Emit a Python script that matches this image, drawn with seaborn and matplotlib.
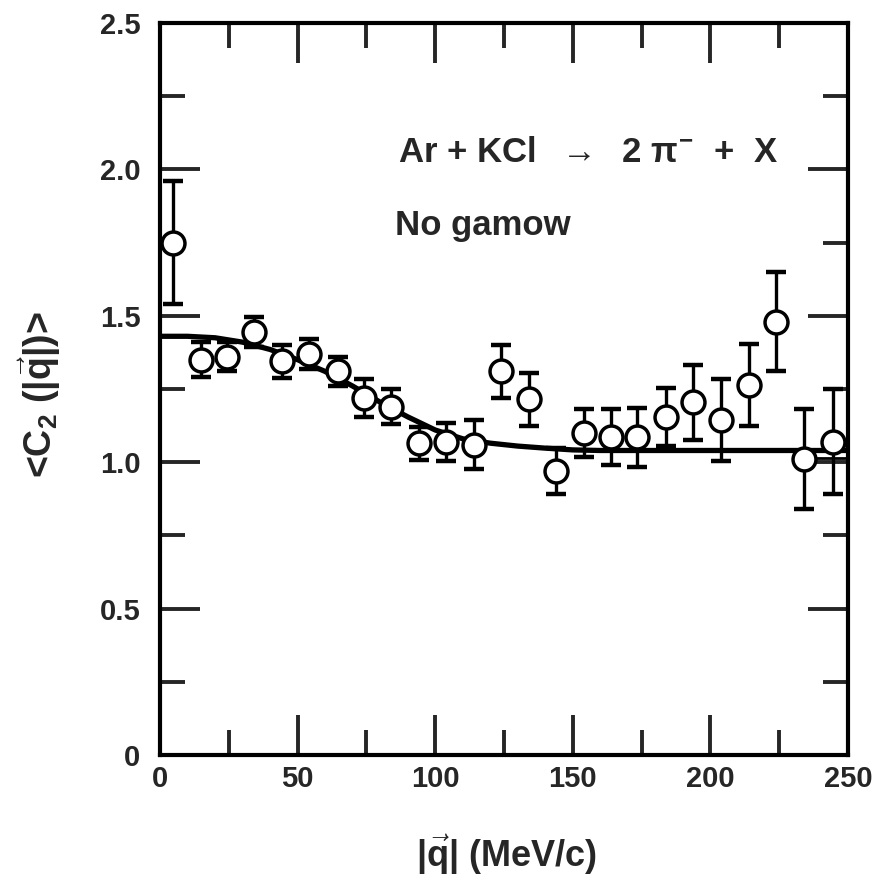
import matplotlib
matplotlib.use("Agg")
import matplotlib.pyplot as plt
import seaborn as sns
import numpy as np
import pandas as pd
from matplotlib.ticker import MultipleLocator

# ---- data ----
q_vals = [4.7, 15, 24.5, 34, 44.5, 54, 64.5, 74, 84, 94, 104, 114, 124, 134,
          144, 154, 164, 173.5, 184, 193.5, 204, 214, 224, 234, 244.5]
c2_vals = [1.75, 1.35, 1.36, 1.445, 1.345, 1.37, 1.31, 1.22, 1.19, 1.065, 1.07,
           1.06, 1.31, 1.215, 0.97, 1.10, 1.085, 1.085, 1.155, 1.205, 1.145,
           1.265, 1.48, 1.01, 1.07]
c2_err = [0.21, 0.06, 0.05, 0.05, 0.056, 0.052, 0.05, 0.065, 0.06, 0.056, 0.065,
          0.083, 0.09, 0.09, 0.078, 0.083, 0.095, 0.10, 0.10, 0.128, 0.14, 0.14,
          0.17, 0.17, 0.18]

fit_q = [0, 10, 20, 30, 40, 50, 60, 70, 80, 90, 100, 110, 120, 130, 140, 150, 160, 250]
fit_c = [1.43, 1.43, 1.425, 1.41, 1.385, 1.35, 1.31, 1.26, 1.205, 1.155, 1.11,
         1.08, 1.065, 1.055, 1.048, 1.042, 1.04, 1.04]

base_q = [237, 250]
base_c = [1.013, 1.013]

x_ticks = [0, 50, 100, 150, 200, 250]
x_ticklabels = ["0", "50", "100", "150", "200", "250"]
y_ticks = [0, 0.5, 1.0, 1.5, 2.0, 2.5]
y_ticklabels = ["0", "0.5", "1.0", "1.5", "2.0", "2.5"]

title_reaction = r"Ar + KCl  $\rightarrow$  2 $\pi^{-}$  +  X"
title_note = "No gamow"
x_label = r"|$\vec{q}$| (MeV/c)"
y_label = r"<C$_2$ (|$\vec{q}$|)>"

# ---- styling ----
sns.set_style("ticks")
plt.rcParams["font.family"] = ["Liberation Sans", "DejaVu Sans"]
plt.rcParams["font.weight"] = "bold"
plt.rcParams["mathtext.fontset"] = "custom"
plt.rcParams["mathtext.rm"] = "Liberation Sans:bold"
plt.rcParams["mathtext.it"] = "Liberation Sans:bold"
plt.rcParams["mathtext.bf"] = "Liberation Sans:bold"

fig = plt.figure(figsize=(8.76, 8.89), dpi=100)
ax = fig.add_axes([160 / 876, 1 - 755 / 889, (848 - 160) / 876, (755 - 23) / 889])

df_fit = pd.DataFrame({"q": fit_q, "c": fit_c})
sns.lineplot(data=df_fit, x="q", y="c", ax=ax, color="black", lw=3.8, zorder=2)
df_base = pd.DataFrame({"q": base_q, "c": base_c})
sns.lineplot(data=df_base, x="q", y="c", ax=ax, color="black", lw=2.0, zorder=2)

ax.errorbar(q_vals, c2_vals, yerr=c2_err, fmt="none", ecolor="black",
            elinewidth=2.4, capsize=7, capthick=3.2, zorder=3)
df_pts = pd.DataFrame({"q": q_vals, "c": c2_vals})
sns.scatterplot(data=df_pts, x="q", y="c", ax=ax, s=16.5 ** 2, marker="o",
                facecolor="white", edgecolor="black", linewidth=2.5, zorder=4)

ax.set_xlim(0, 250)
ax.set_ylim(0, 2.5)
ax.set_xticks(x_ticks)
ax.set_xticklabels(x_ticklabels)
ax.set_yticks(y_ticks)
ax.set_yticklabels(y_ticklabels)
ax.xaxis.set_minor_locator(MultipleLocator(25))
ax.yaxis.set_minor_locator(MultipleLocator(0.25))

ax.tick_params(which="major", direction="in", length=29, width=2.8,
               top=True, right=True, labelsize=21)
ax.tick_params(which="minor", direction="in", length=18, width=2.8,
               top=True, right=True)
ax.tick_params(axis="y", which="major", pad=14)
ax.tick_params(axis="x", which="major", pad=7)
for lab in ax.get_xticklabels() + ax.get_yticklabels():
    lab.set_fontweight("bold")
for sp in ax.spines.values():
    sp.set_linewidth(3)
    sp.set_color("black")

ax.set_xlabel("")
ax.set_ylabel("")
fig.text(507 / 876, 1 - 855 / 889, x_label, ha="center", va="center",
         fontsize=26, fontweight="bold")
fig.text(40 / 876, 1 - 395 / 889, y_label, ha="center", va="center",
         fontsize=27, fontweight="bold", rotation=90)

fig.text(398 / 876, 1 - 153 / 889, title_reaction, ha="left", va="center",
         fontsize=25, fontweight="bold")
fig.text(395 / 876, 1 - 225 / 889, title_note, ha="left", va="center",
         fontsize=25, fontweight="bold")

fig.savefig("out.png", dpi=100, facecolor="white")
